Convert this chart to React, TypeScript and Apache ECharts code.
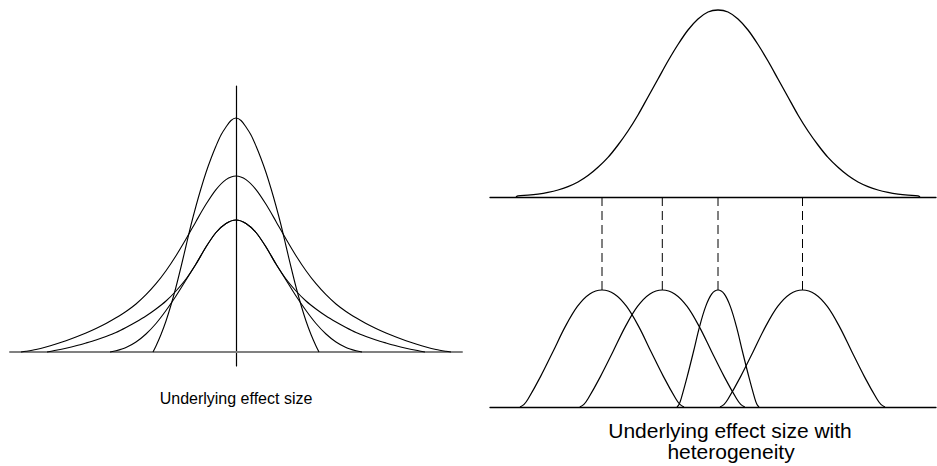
import React, { useEffect, useRef } from "react";
import * as echarts from "echarts";

// ---- Left panel: effect-size distributions (x: units from centre, y: height units) ----
const tallCurve: [number, number][] = [
  [-8.3, 0], [-8, 0.6], [-7.5, 1.75], [-7, 3.1], [-6.5, 4.7], [-6, 6.5], [-5.5, 8.5], [-5, 10.6],
  [-4.5, 12.7], [-4, 14.6], [-3.5, 16.35], [-3, 17.95], [-2.5, 19.35], [-2, 20.6], [-1.5, 21.7],
  [-1, 22.5], [-0.5, 23.15], [0, 23.4], [0.5, 23.15], [1, 22.5], [1.5, 21.7], [2, 20.6], [2.5, 19.35],
  [3, 17.95], [3.5, 16.35], [4, 14.6], [4.5, 12.7], [5, 10.6], [5.5, 8.5], [6, 6.5], [6.5, 4.7],
  [7, 3.1], [7.5, 1.75], [8, 0.6], [8.3, 0],
];
const wideCurve: [number, number][] = [
  [-21.5, 0], [-21, 0.07], [-20, 0.25], [-19, 0.5], [-18, 0.8], [-17, 1.13], [-16, 1.5], [-15, 1.9],
  [-14, 2.35], [-13, 2.85], [-12, 3.42], [-11, 4.05], [-10, 4.8], [-9, 5.73], [-8, 6.83], [-7, 8.13],
  [-6, 9.63], [-5, 11.3], [-4, 13.06], [-3, 14.77], [-2, 16.24], [-1, 17.24], [0, 17.6],
  [1, 17.24], [2, 16.24], [3, 14.77], [4, 13.06], [5, 11.3], [6, 9.63], [7, 8.13], [8, 6.83],
  [9, 5.73], [10, 4.8], [11, 4.05], [12, 3.42], [13, 2.85], [14, 2.35], [15, 1.9], [16, 1.5],
  [17, 1.13], [18, 0.8], [19, 0.5], [20, 0.25], [21, 0.07], [21.5, 0],
];
const compactCurve: [number, number][] = [
  [-12.6, 0], [-12, 0.12], [-11, 0.45], [-10, 1.0], [-9, 1.8], [-8, 2.85], [-7, 4.15], [-6, 5.6],
  [-5, 7.2], [-4, 8.8], [-3, 10.5], [-2, 11.95], [-1, 12.85], [0, 13.2], [1, 12.85], [2, 11.95],
  [3, 10.5], [4, 8.8], [5, 7.2], [6, 5.6], [7, 4.15], [8, 2.85], [9, 1.8], [10, 1.0], [11, 0.45],
  [12, 0.12], [12.6, 0],
];
const longTailCurve: [number, number][] = [
  [-18.9, 0], [-18, 0.17], [-17, 0.38], [-16, 0.62], [-15, 0.9], [-14, 1.2], [-13, 1.55], [-12, 1.95],
  [-11, 2.45], [-10, 3.0], [-9, 3.6], [-8, 4.3], [-7, 5.1], [-6, 6.1], [-5, 7.3], [-4, 8.8],
  [-3, 10.5], [-2, 11.95], [-1, 12.85], [0, 13.2], [1, 12.85], [2, 11.95], [3, 10.5], [4, 8.8],
  [5, 7.3], [6, 6.1], [7, 5.1], [8, 4.3], [9, 3.6], [10, 3.0], [11, 2.45], [12, 1.95], [13, 1.55],
  [14, 1.2], [15, 0.9], [16, 0.62], [17, 0.38], [18, 0.17], [18.9, 0],
];

// ---- Right panel, top: distribution of true effects ----
const trueEffects: [number, number][] = [
  [-20.2, 0], [-20, 0.11], [-19, 0.18], [-18, 0.29], [-17, 0.46], [-16, 0.7], [-15, 1.04], [-14, 1.5],
  [-13, 2.14], [-12, 2.97], [-11, 3.96], [-10, 5.2], [-9, 6.6], [-8, 8.2], [-7, 10.0], [-6, 11.8],
  [-5, 13.6], [-4, 15.25], [-3, 16.7], [-2, 17.8], [-1, 18.5], [0, 18.7], [1, 18.5], [2, 17.8],
  [3, 16.7], [4, 15.25], [5, 13.6], [6, 11.8], [7, 10.0], [8, 8.2], [9, 6.6], [10, 5.2], [11, 3.96],
  [12, 2.97], [13, 2.14], [14, 1.5], [15, 1.04], [16, 0.7], [17, 0.46], [18, 0.29], [19, 0.18],
  [20, 0.11], [20.2, 0],
];

// ---- Right panel, bottom: individual study distributions ----
const studyHeights = [0, 0.26, 0.82, 3.04, 5.5, 8.01, 10.06, 11.31, 11.7, 11.31, 10.06, 8.01, 5.5, 3.04, 0.82, 0.26, 0];
const study1X = [-19.8, -19.39, -18.98, -17.75, -16.52, -15.29, -14.06, -12.83, -11.6, -10.37, -9.14, -7.91, -6.68, -5.45, -4.22, -3.81, -3.4];
const study2X = [-13.82, -13.41, -13.0, -11.76, -10.52, -9.28, -8.05, -6.81, -5.57, -4.33, -3.09, -1.86, -0.62, 0.62, 1.86, 2.27, 2.68];
const study3X = [-4.1, -3.9, -3.69, -3.08, -2.46, -1.85, -1.23, -0.62, 0, 0.62, 1.23, 1.85, 2.46, 3.08, 3.69, 3.9, 4.1];
const study4X = [0.2, 0.61, 1.02, 2.26, 3.5, 4.74, 5.97, 7.21, 8.45, 9.69, 10.93, 12.16, 13.4, 14.64, 15.88, 16.29, 16.7];
const studyCentres = [-11.6, -5.57, 0, 8.45];
const studyPeak = 11.7;
const topBaselineInBottom = 21;

const leftLabel = "Underlying effect size";
const rightLabel1 = "Underlying effect size with";
const rightLabel2 = "heterogeneity";

const FONT = '"Liberation Sans", Arial, Helvetica, sans-serif';

function curve(data: [number, number][], xi: number, yi: number, width = 1.1, smooth = 0.3) {
  return {
    type: "line",
    data,
    xAxisIndex: xi,
    yAxisIndex: yi,
    showSymbol: false,
    symbol: "none",
    smooth,
    silent: true,
    lineStyle: { color: "#000", width },
    z: 3,
  };
}

export default function App() {
  const ref = useRef<HTMLDivElement>(null);
  useEffect(() => {
    const chart = echarts.init(ref.current!, null, { renderer: "svg" });
    const zip = (xs: number[]) => xs.map((x, i) => [x, studyHeights[i]] as [number, number]);
    const hidden = { show: false };
    const option: any = {
      animation: false,
      backgroundColor: "#fff",
      grid: [
        { left: 10, top: 86, width: 452, height: 280 },
        { left: 490, top: 0, width: 446, height: 197 },
        { left: 490, top: 197, width: 446, height: 210 },
      ],
      xAxis: [
        {
          type: "value", gridIndex: 0, min: -22.6, max: 22.6,
          axisLine: { show: true, onZero: true, lineStyle: { color: "#808080", width: 2 } },
          axisTick: hidden, axisLabel: hidden, splitLine: hidden,
        },
        {
          type: "value", gridIndex: 1, min: -22.8, max: 21.8,
          axisLine: { show: true, lineStyle: { color: "#000", width: 1.3 } },
          axisTick: hidden, axisLabel: hidden, splitLine: hidden,
        },
        {
          type: "value", gridIndex: 2, min: -22.8, max: 21.8,
          axisLine: { show: true, lineStyle: { color: "#000", width: 1.3 } },
          axisTick: hidden, axisLabel: hidden, splitLine: hidden,
        },
      ],
      yAxis: [
        {
          type: "value", gridIndex: 0, min: -1.4, max: 26.6,
          axisLine: { show: true, onZero: true, lineStyle: { color: "#000", width: 1.2 } },
          axisTick: hidden, axisLabel: hidden, splitLine: hidden,
        },
        { type: "value", gridIndex: 1, min: 0, max: 19.7, show: false, splitLine: hidden },
        { type: "value", gridIndex: 2, min: 0, max: 21, show: false, splitLine: hidden },
      ],
      series: [
        curve(tallCurve, 0, 0),
        curve(wideCurve, 0, 0),
        curve(compactCurve, 0, 0),
        curve(longTailCurve, 0, 0),
        curve(trueEffects, 1, 1, 1.3),
        curve(zip(study1X), 2, 2, 1.2, 0.35),
        curve(zip(study2X), 2, 2, 1.2, 0.35),
        curve(zip(study3X), 2, 2, 1.2, 0.35),
        curve(zip(study4X), 2, 2, 1.2, 0.35),
        ...studyCentres.map((c) => ({
          type: "line",
          xAxisIndex: 2,
          yAxisIndex: 2,
          data: [[c, topBaselineInBottom], [c, studyPeak]],
          showSymbol: false,
          symbol: "none",
          silent: true,
          clip: false,
          lineStyle: { color: "#000", width: 1, type: [9, 5] },
          z: 2,
        })),
      ],
      graphic: [
        {
          type: "text", x: 236, y: 398.5,
          style: { text: leftLabel, fill: "#000", font: `16px ${FONT}`, textAlign: "center", textVerticalAlign: "middle" },
        },
        {
          type: "text", x: 730, y: 430,
          style: { text: rightLabel1, fill: "#000", font: `21px ${FONT}`, textAlign: "center", textVerticalAlign: "middle" },
        },
        {
          type: "text", x: 731, y: 451.5,
          style: { text: rightLabel2, fill: "#000", font: `21px ${FONT}`, textAlign: "center", textVerticalAlign: "middle" },
        },
      ],
    };
    chart.setOption(option);
    return () => chart.dispose();
  }, []);
  return (
    <div
      ref={ref}
      style={{ position: "absolute", left: 0, top: 0, width: 937, height: 466, background: "#fff" }}
    />
  );
}
